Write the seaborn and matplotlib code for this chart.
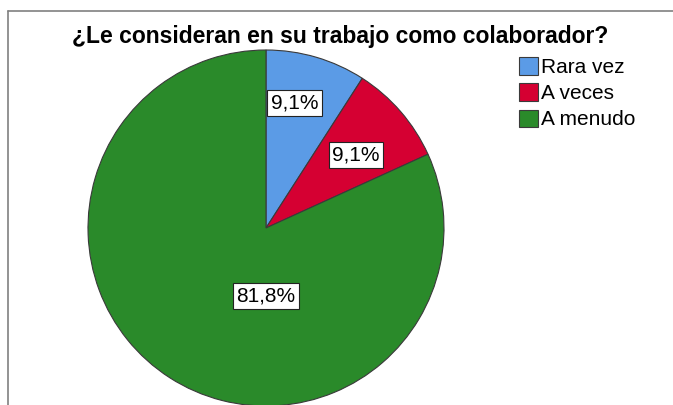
import matplotlib
matplotlib.use("Agg")
import matplotlib.pyplot as plt
import seaborn as sns
from matplotlib.lines import Line2D

sns.set_theme(style="white")
plt.rcParams['font.family'] = ['Liberation Sans', 'DejaVu Sans']
plt.rcParams['text.color'] = 'black'

categories = ["Rara vez", "A veces", "A menudo"]
values = [9.1, 9.1, 81.8]
labels = ["9,1%", "9,1%", "81,8%"]
colors = ["#5b9be6", "#d50032", "#2a8a2a"]

fig = plt.figure(figsize=(6.73, 4.05), dpi=100)
fig.patch.set_facecolor("white")

# pie axes: center (266, 228) px, radius 178 px
ax = fig.add_axes([(266 - 178) / 673, (405 - 228 - 178) / 405, 356 / 673, 356 / 405])
wedges, _ = ax.pie(values, colors=colors, startangle=90, counterclock=False,
                   wedgeprops=dict(edgecolor="#3a3a3a", linewidth=0.8))
ax.set_xlim(-1, 1)
ax.set_ylim(-1, 1)
ax.set_aspect("equal")
ax.axis("off")

# label positions (data coords of pie)
label_pos = [(0.16, 0.70), (0.505, 0.41), (0.0, -0.38)]
for (x, y), lab in zip(label_pos, labels):
    ax.text(x, y, lab, ha="center", va="center", fontsize=15, color="black",
            bbox=dict(boxstyle="square,pad=0.17", facecolor="white",
                      edgecolor="#222222", linewidth=0.8))

fig.text(340 / 673, 1 - 37 / 405, "¿Le consideran en su trabajo como colaborador?",
         ha="center", va="center", fontsize=16.5, fontweight="bold", color="black")

leg = fig.legend(wedges, categories, loc="upper left",
                 bbox_to_anchor=(509 / 673, 1 - 47 / 405), frameon=False,
                 fontsize=15, handlelength=0.9, handleheight=0.9,
                 handletextpad=0.15, labelspacing=0.3, borderpad=0,
                 labelcolor="black")

# outer frame lines
fig.add_artist(Line2D([8 / 673, 8 / 673], [0, 1 - 11 / 405], transform=fig.transFigure,
                      color="#808080", linewidth=1.2))
fig.add_artist(Line2D([8 / 673, 1], [1 - 11 / 405, 1 - 11 / 405], transform=fig.transFigure,
                      color="#808080", linewidth=1.2))

fig.savefig("out.png", dpi=100)
